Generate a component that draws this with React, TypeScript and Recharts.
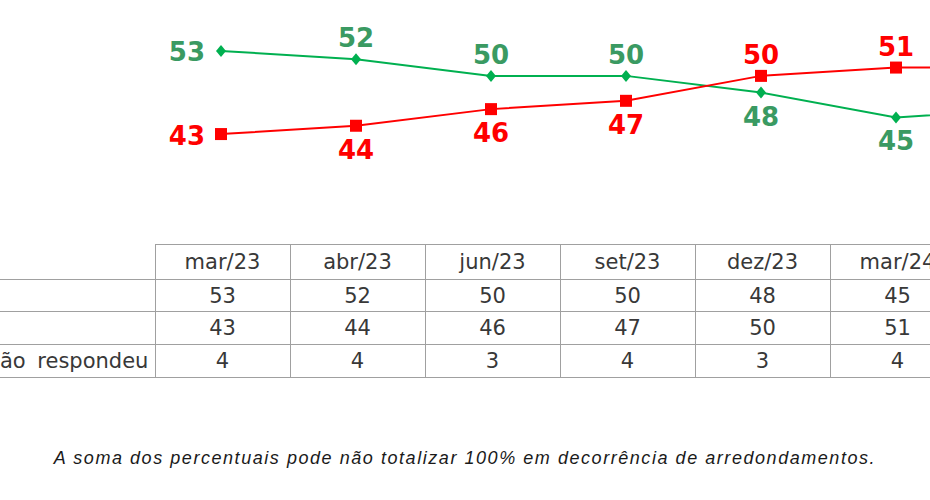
import React from 'react';
import { LineChart, Line, XAxis, YAxis, LabelList } from 'recharts';

// survey waves (the last one is cut off by the frame in the original, only its line stub shows)
const periods = ['mar/23', 'abr/23', 'jun/23', 'set/23', 'dez/23', 'mar/24', 'jun/24'];
const aprova = [53, 52, 50, 50, 48, 45, 46];
const desaprova = [43, 44, 46, 47, 50, 51, 51];
const naoSabe = [4, 4, 3, 4, 3, 4, 3];
const rowLabels = ['Aprova', 'Desaprova', 'Não sabe/Não respondeu'];
const shownWaves = 6;

const GREEN_LINE = '#00b050';
const GREEN_TEXT = '#3a9a62';
const RED = '#ff0000';

const chartData = periods.map((p, i) => ({ periodo: p, aprova: aprova[i], desaprova: desaprova[i] }));
const tableRows = [aprova, desaprova, naoSabe];

const labelFont = { fontFamily: 'DejaVu Sans, Verdana, sans-serif', fontWeight: 700, fontSize: 26 };

const makeLabel = (own: number[], other: number[], color: string) => (props: any) => {
  const { x, y, value, index } = props;
  if (index >= shownWaves) return null;
  if (index === 0) {
    return (
      <text x={x - 16} y={y + 10.5} textAnchor="end" fill={color} {...labelFont}>
        {value}
      </text>
    );
  }
  const above = own[index] > other[index];
  return (
    <text x={x} y={above ? y - 12 : y + 33} textAnchor="middle" fill={color} {...labelFont}>
      {value}
    </text>
  );
};

const Diamond = (props: any) => {
  const { cx, cy } = props;
  if (cx == null || cy == null) return null;
  return <polygon points={`${cx},${cy - 6} ${cx + 5},${cy} ${cx},${cy + 6} ${cx - 5},${cy}`} fill={GREEN_LINE} />;
};

const Square = (props: any) => {
  const { cx, cy } = props;
  if (cx == null || cy == null) return null;
  return <rect x={cx - 6} y={cy - 6} width={12} height={12} fill={RED} />;
};

const COL_W = 135;
const LABEL_LEFT = -130;
const LABEL_W = 155 - LABEL_LEFT;
const lineColor = '#a0a0a0';

const cellBase: React.CSSProperties = {
  width: COL_W,
  textAlign: 'center',
  borderLeft: `1px solid ${lineColor}`,
  borderRight: `1px solid ${lineColor}`,
  borderBottom: `1px solid ${lineColor}`,
  padding: 0,
};

const App: React.FC = () => {
  const waves = periods.slice(0, shownWaves);
  return (
    <div
      style={{
        position: 'fixed',
        left: 0,
        top: 0,
        width: 930,
        height: 500,
        overflow: 'hidden',
        background: '#fff',
      }}
    >
      <div style={{ position: 'absolute', left: 0, top: 1 }}>
        <LineChart width={1100} height={200} data={chartData} margin={{ top: 25, right: 69, bottom: 42, left: 221 }}>
          <XAxis dataKey="periodo" hide />
          <YAxis domain={[40, 56]} hide />
          <Line
            dataKey="aprova"
            stroke={GREEN_LINE}
            strokeWidth={2}
            dot={(p: any) => <Diamond key={`a-${p.index}`} {...p} />}
            isAnimationActive={false}
          >
            <LabelList dataKey="aprova" content={makeLabel(aprova, desaprova, GREEN_TEXT)} />
          </Line>
          <Line
            dataKey="desaprova"
            stroke={RED}
            strokeWidth={2}
            dot={(p: any) => <Square key={`d-${p.index}`} {...p} />}
            isAnimationActive={false}
          >
            <LabelList dataKey="desaprova" content={makeLabel(desaprova, aprova, RED)} />
          </Line>
        </LineChart>
      </div>

      <table
        style={{
          position: 'absolute',
          left: LABEL_LEFT,
          top: 244,
          width: LABEL_W + COL_W * shownWaves,
          borderCollapse: 'collapse',
          tableLayout: 'fixed',
          fontFamily: 'DejaVu Sans, Verdana, sans-serif',
          fontSize: 21,
          color: '#383838',
        }}
      >
        <colgroup>
          <col style={{ width: LABEL_W }} />
          {waves.map((p) => (
            <col key={p} style={{ width: COL_W }} />
          ))}
        </colgroup>
        <tbody>
          <tr style={{ height: 35 }}>
            <td style={{ borderBottom: `1px solid ${lineColor}`, padding: 0 }} />
            {waves.map((p) => (
              <td key={p} style={{ ...cellBase, borderTop: `1px solid ${lineColor}` }}>
                {p}
              </td>
            ))}
          </tr>
          {tableRows.map((row, r) => (
            <tr key={rowLabels[r]} style={{ height: r === 0 ? 32 : 33 }}>
              <td
                style={{
                  borderBottom: `1px solid ${lineColor}`,
                  padding: '0 0 0 4px',
                  textAlign: 'left',
                  whiteSpace: 'nowrap',
                  overflow: 'hidden',
                  wordSpacing: 5,
                }}
              >
                {rowLabels[r]}
              </td>
              {row.slice(0, shownWaves).map((v, i) => (
                <td key={i} style={cellBase}>
                  {v}
                </td>
              ))}
            </tr>
          ))}
        </tbody>
      </table>

      <div
        style={{
          position: 'absolute',
          left: 0,
          top: 448,
          width: 930,
          textAlign: 'center',
          fontFamily: 'Liberation Sans, Arial, sans-serif',
          fontStyle: 'italic',
          fontSize: 18,
          letterSpacing: 1.55,
          color: '#1a1a1a',
        }}
      >
        A soma dos percentuais pode não totalizar 100% em decorrência de arredondamentos.
      </div>
    </div>
  );
};

export default App;
